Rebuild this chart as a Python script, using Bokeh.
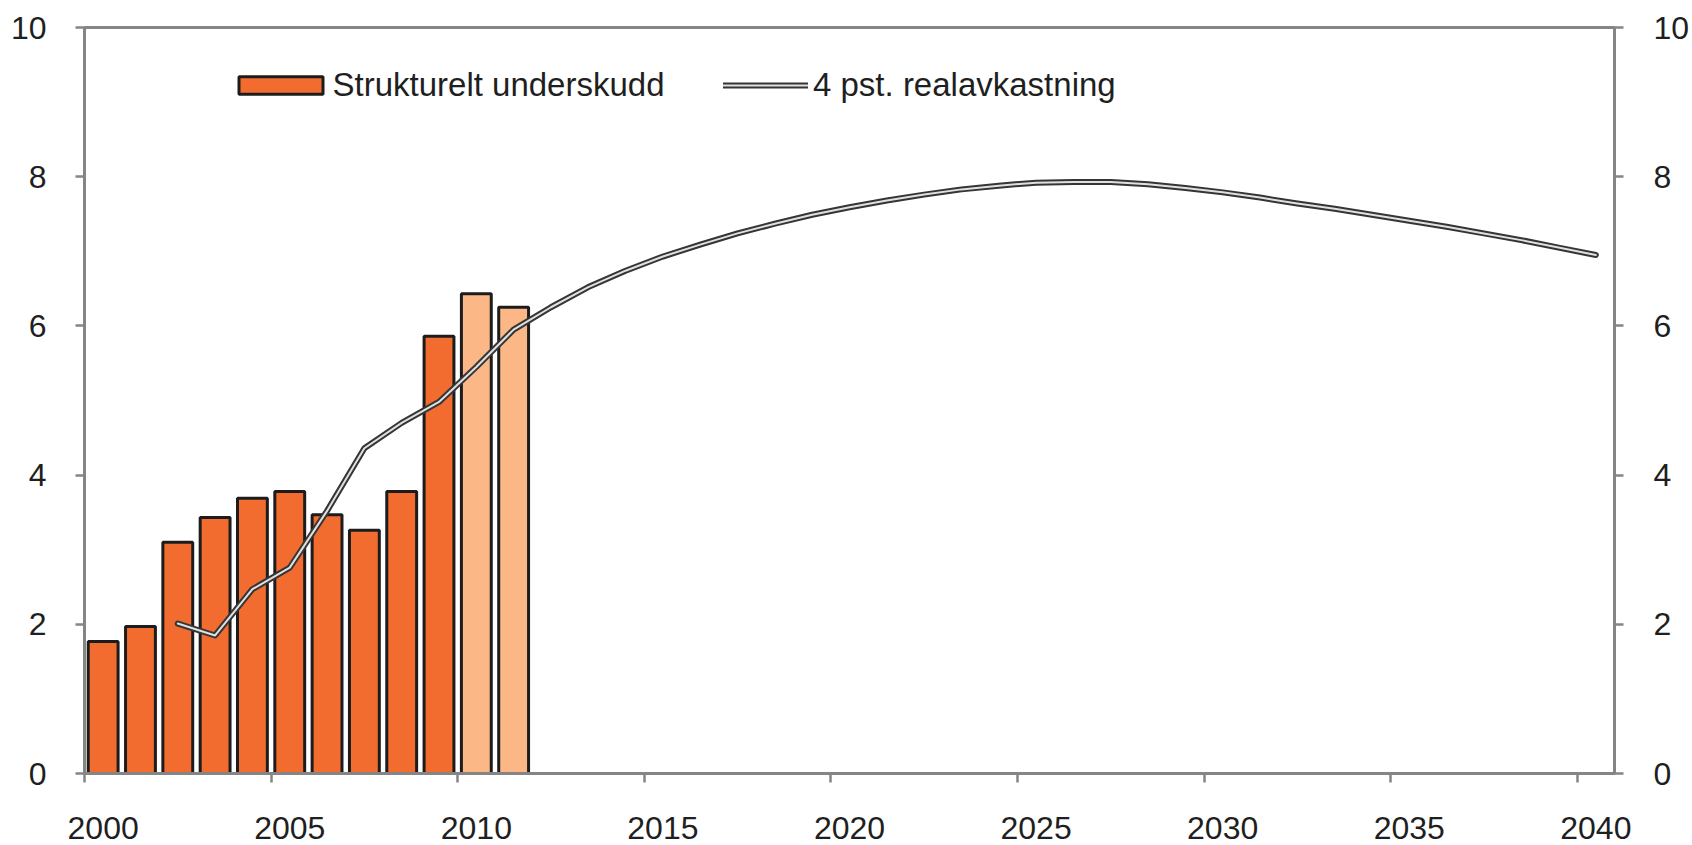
from bokeh.plotting import figure
from bokeh.models import (ColumnDataSource, Range1d, LinearAxis, FixedTicker,
                          Legend, LegendItem)
from bokeh.embed import file_html
from bokeh.resources import INLINE

# ---------------- data ----------------
years_bar = list(range(2000, 2012))
underskudd = [1.77, 1.97, 3.10, 3.43, 3.69, 3.78, 3.47, 3.26, 3.78, 5.86, 6.43, 6.25]
is_estimate = [False, False, False, False, False, False, False, False, False, False, True, True]

years_line = list(range(2002, 2041))
realavkastning = [2.01, 1.85, 2.47, 2.76, 3.52, 4.36, 4.70, 4.98, 5.45, 5.95,
                  6.25, 6.52, 6.74, 6.93, 7.09, 7.24, 7.37, 7.49, 7.59, 7.68,
                  7.76, 7.83, 7.88, 7.92, 7.93, 7.93, 7.90, 7.85, 7.79, 7.72,
                  7.64, 7.57, 7.49, 7.41, 7.33, 7.24, 7.15, 7.05, 6.95]

x_tick_years = [2000, 2005, 2010, 2015, 2020, 2025, 2030, 2035, 2040]
y_ticks = [0, 2, 4, 6, 8, 10]

label_bar = "Strukturelt underskudd"
label_line = "4 pst. realavkastning"

# ---------------- style ----------------
DARK = "#F26C30"
LIGHT = "#FBB886"
AXIS = "#858585"
TEXT = "#1f1f1f"
FONT = "Liberation Sans"
FS = "32px"

p = figure(width=1692, height=845,
           x_range=Range1d(2000, 2041), y_range=Range1d(0, 10),
           output_backend="svg", toolbar_location=None,
           x_axis_location=None, y_axis_location=None,
           min_border_left=84, min_border_right=77,
           min_border_top=27, min_border_bottom=72)
p.grid.visible = False
p.outline_line_color = AXIS
p.outline_line_width = 3
p.background_fill_color = "white"
p.border_fill_color = "white"

# bars (category centres at year + 0.5)
bar_src = ColumnDataSource(dict(
    x=[y + 0.5 for y in years_bar],
    top=underskudd,
    color=[LIGHT if e else DARK for e in is_estimate],
))
bars = p.vbar(x="x", top="top", bottom=0, width=0.8, source=bar_src,
              fill_color="color", line_color="#1c1c1c", line_width=3)

# double line
line_src = ColumnDataSource(dict(x=[y + 0.5 for y in years_line], y=realavkastning))
outer = p.line("x", "y", source=line_src, line_color="#353535", line_width=6,
               line_join="round", line_cap="round")
inner = p.line("x", "y", source=line_src, line_color="#e0e0e0", line_width=2,
               line_join="round", line_cap="round")

# x axis: tick marks at category boundaries, labels at category centres
xaxis = LinearAxis(
    ticker=FixedTicker(ticks=[y + 0.5 for y in x_tick_years], minor_ticks=x_tick_years),
    major_label_overrides={y + 0.5: str(y) for y in x_tick_years},
    axis_line_color=AXIS, axis_line_width=3,
    major_tick_line_color=None, major_tick_out=9, major_tick_in=0,
    minor_tick_line_color=AXIS, minor_tick_line_width=2.5, minor_tick_out=9, minor_tick_in=0,
    major_label_standoff=34,
    major_label_text_font=FONT, major_label_text_font_size=FS,
    major_label_text_color=TEXT,
)
p.add_layout(xaxis, "below")


def yaxis(standoff):
    return LinearAxis(
        ticker=FixedTicker(ticks=y_ticks, minor_ticks=[]),
        axis_line_color=AXIS, axis_line_width=3,
        major_tick_line_color=AXIS, major_tick_line_width=2.5,
        major_tick_out=9, major_tick_in=0,
        minor_tick_line_color=None,
        major_label_standoff=standoff,
        major_label_text_font=FONT, major_label_text_font_size=FS,
        major_label_text_color=TEXT,
    )


p.add_layout(yaxis(29), "left")
p.add_layout(yaxis(30), "right")

# legends
common = dict(padding=0, margin=0, border_line_color=None, background_fill_alpha=0,
              label_text_font=FONT, label_text_font_size="33px",
              label_text_color=TEXT, orientation="horizontal")
leg1 = Legend(items=[LegendItem(label=label_bar, renderers=[bars], index=0)],
              location=(143.5, 669), glyph_width=105, glyph_height=22,
              label_standoff=0, **common)
leg2 = Legend(items=[LegendItem(label=label_line, renderers=[outer, inner])],
              location=(639, 669), glyph_width=85, glyph_height=22,
              label_standoff=5, **common)
p.add_layout(leg1)
p.add_layout(leg2)

open("out.html", "w").write(file_html(p, INLINE))
